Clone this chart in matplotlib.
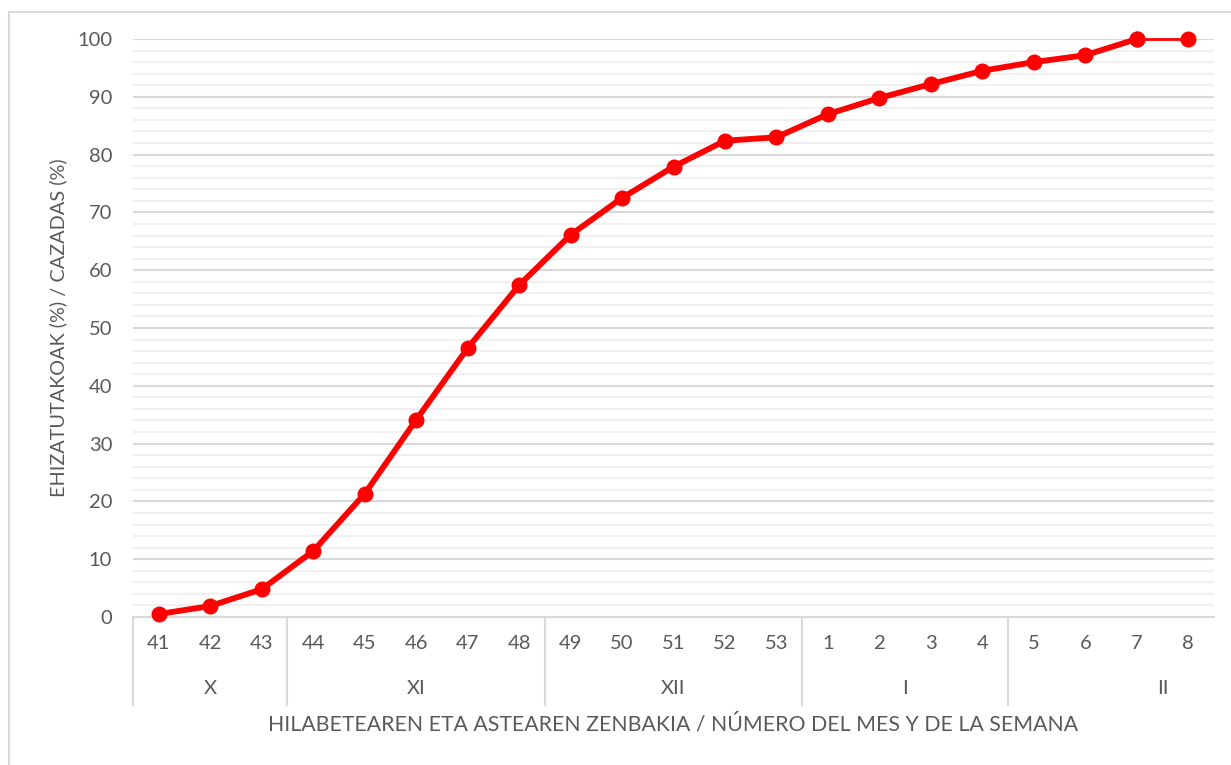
import matplotlib.pyplot as plt
from matplotlib.patches import Rectangle
from matplotlib.transforms import blended_transform_factory
import numpy as np

plt.rcParams['font.family'] = ['Lato', 'DejaVu Sans']

# data
weeks = ['41', '42', '43', '44', '45', '46', '47', '48', '49', '50', '51',
         '52', '53', '1', '2', '3', '4', '5', '6', '7', '8']
hunted = [0.5, 1.9, 4.8, 11.4, 21.3, 34.1, 46.5, 57.4, 66.1, 72.5, 77.9,
          82.4, 83.0, 87.0, 89.8, 92.2, 94.5, 96.0, 97.2, 100.0, 100.0]
months = ['X', 'XI', 'XII', 'I', 'II']
month_sizes = [3, 5, 5, 4, 4]

grey = '#595959'
red = '#ff0000'
fs = 14.5

fig = plt.figure(figsize=(12.31, 7.65), dpi=100)
W, H = 1231, 765
ax = fig.add_axes([133 / W, 1 - 617 / H, (1214 - 133) / W, (617 - 39) / H])

# chart border (only top and left edges fall inside the picture)
fig.patches.append(Rectangle((9 / W, -0.1), 1.2, 1.1 - 12 / H,
                             transform=fig.transFigure, fill=False,
                             edgecolor='#d9d9d9', lw=1.5))

xx = np.arange(len(weeks))
ax.plot(xx[:-1], hunted[:-1], color=red, lw=4.2, marker='o', ms=10.5,
        solid_capstyle='round', solid_joinstyle='round', zorder=3, clip_on=False)
ax.plot(xx[-2:], hunted[-2:], color=red, lw=2, marker='o', ms=10.5,
        zorder=3, clip_on=False)

ax.set_xlim(-0.5, len(weeks) - 0.5)
ax.set_ylim(0, 100)
ax.set_yticks(np.arange(0, 101, 10))
ax.set_yticks(np.arange(0, 101, 2), minor=True)
ax.grid(axis='y', which='major', color='#d9d9d9', lw=1.5)
ax.grid(axis='y', which='minor', color='#f0f0f0', lw=1.5)
ax.set_axisbelow(True)
ax.tick_params(axis='y', which='both', length=0, labelsize=fs,
               labelcolor=grey, pad=15)

ax.set_xticks(xx)
ax.set_xticklabels(weeks)
ax.tick_params(axis='x', length=0, labelsize=fs, labelcolor=grey, pad=13)

for s in ['top', 'right', 'left']:
    ax.spines[s].set_visible(False)
ax.spines['bottom'].set_color('#d9d9d9')
ax.spines['bottom'].set_linewidth(1.5)

# month groups under the week labels
trans = blended_transform_factory(ax.transData, ax.transAxes)
sep_bottom = -88 / 578
start = 0
for i, (m, n) in enumerate(zip(months, month_sizes)):
    ax.plot([start - 0.5, start - 0.5], [0, sep_bottom], color='#d9d9d9',
            lw=1.5, transform=trans, clip_on=False)
    centre = start + (n - 1) / 2
    if i == len(months) - 1:
        centre += 1  # Excel puts the last group label off-centre
    ax.text(centre, -71 / 578, m, transform=trans, ha='center', va='center',
            fontsize=fs, color=grey)
    start += n

ax.set_xlabel('HILABETEAREN ETA ASTEAREN ZENBAKIA / NÚMERO DEL MES Y DE LA SEMANA',
              fontsize=15.3, color=grey)
ax.xaxis.set_label_coords((673 - 133) / (1214 - 133), -97 / 578)
ax.set_ylabel('EHIZATUTAKOAK (%) / CAZADAS (%)', fontsize=14.3, color=grey)
ax.yaxis.set_label_coords(-(133 - 67) / (1214 - 133), 0.5)

fig.savefig('out.png', dpi=100)
